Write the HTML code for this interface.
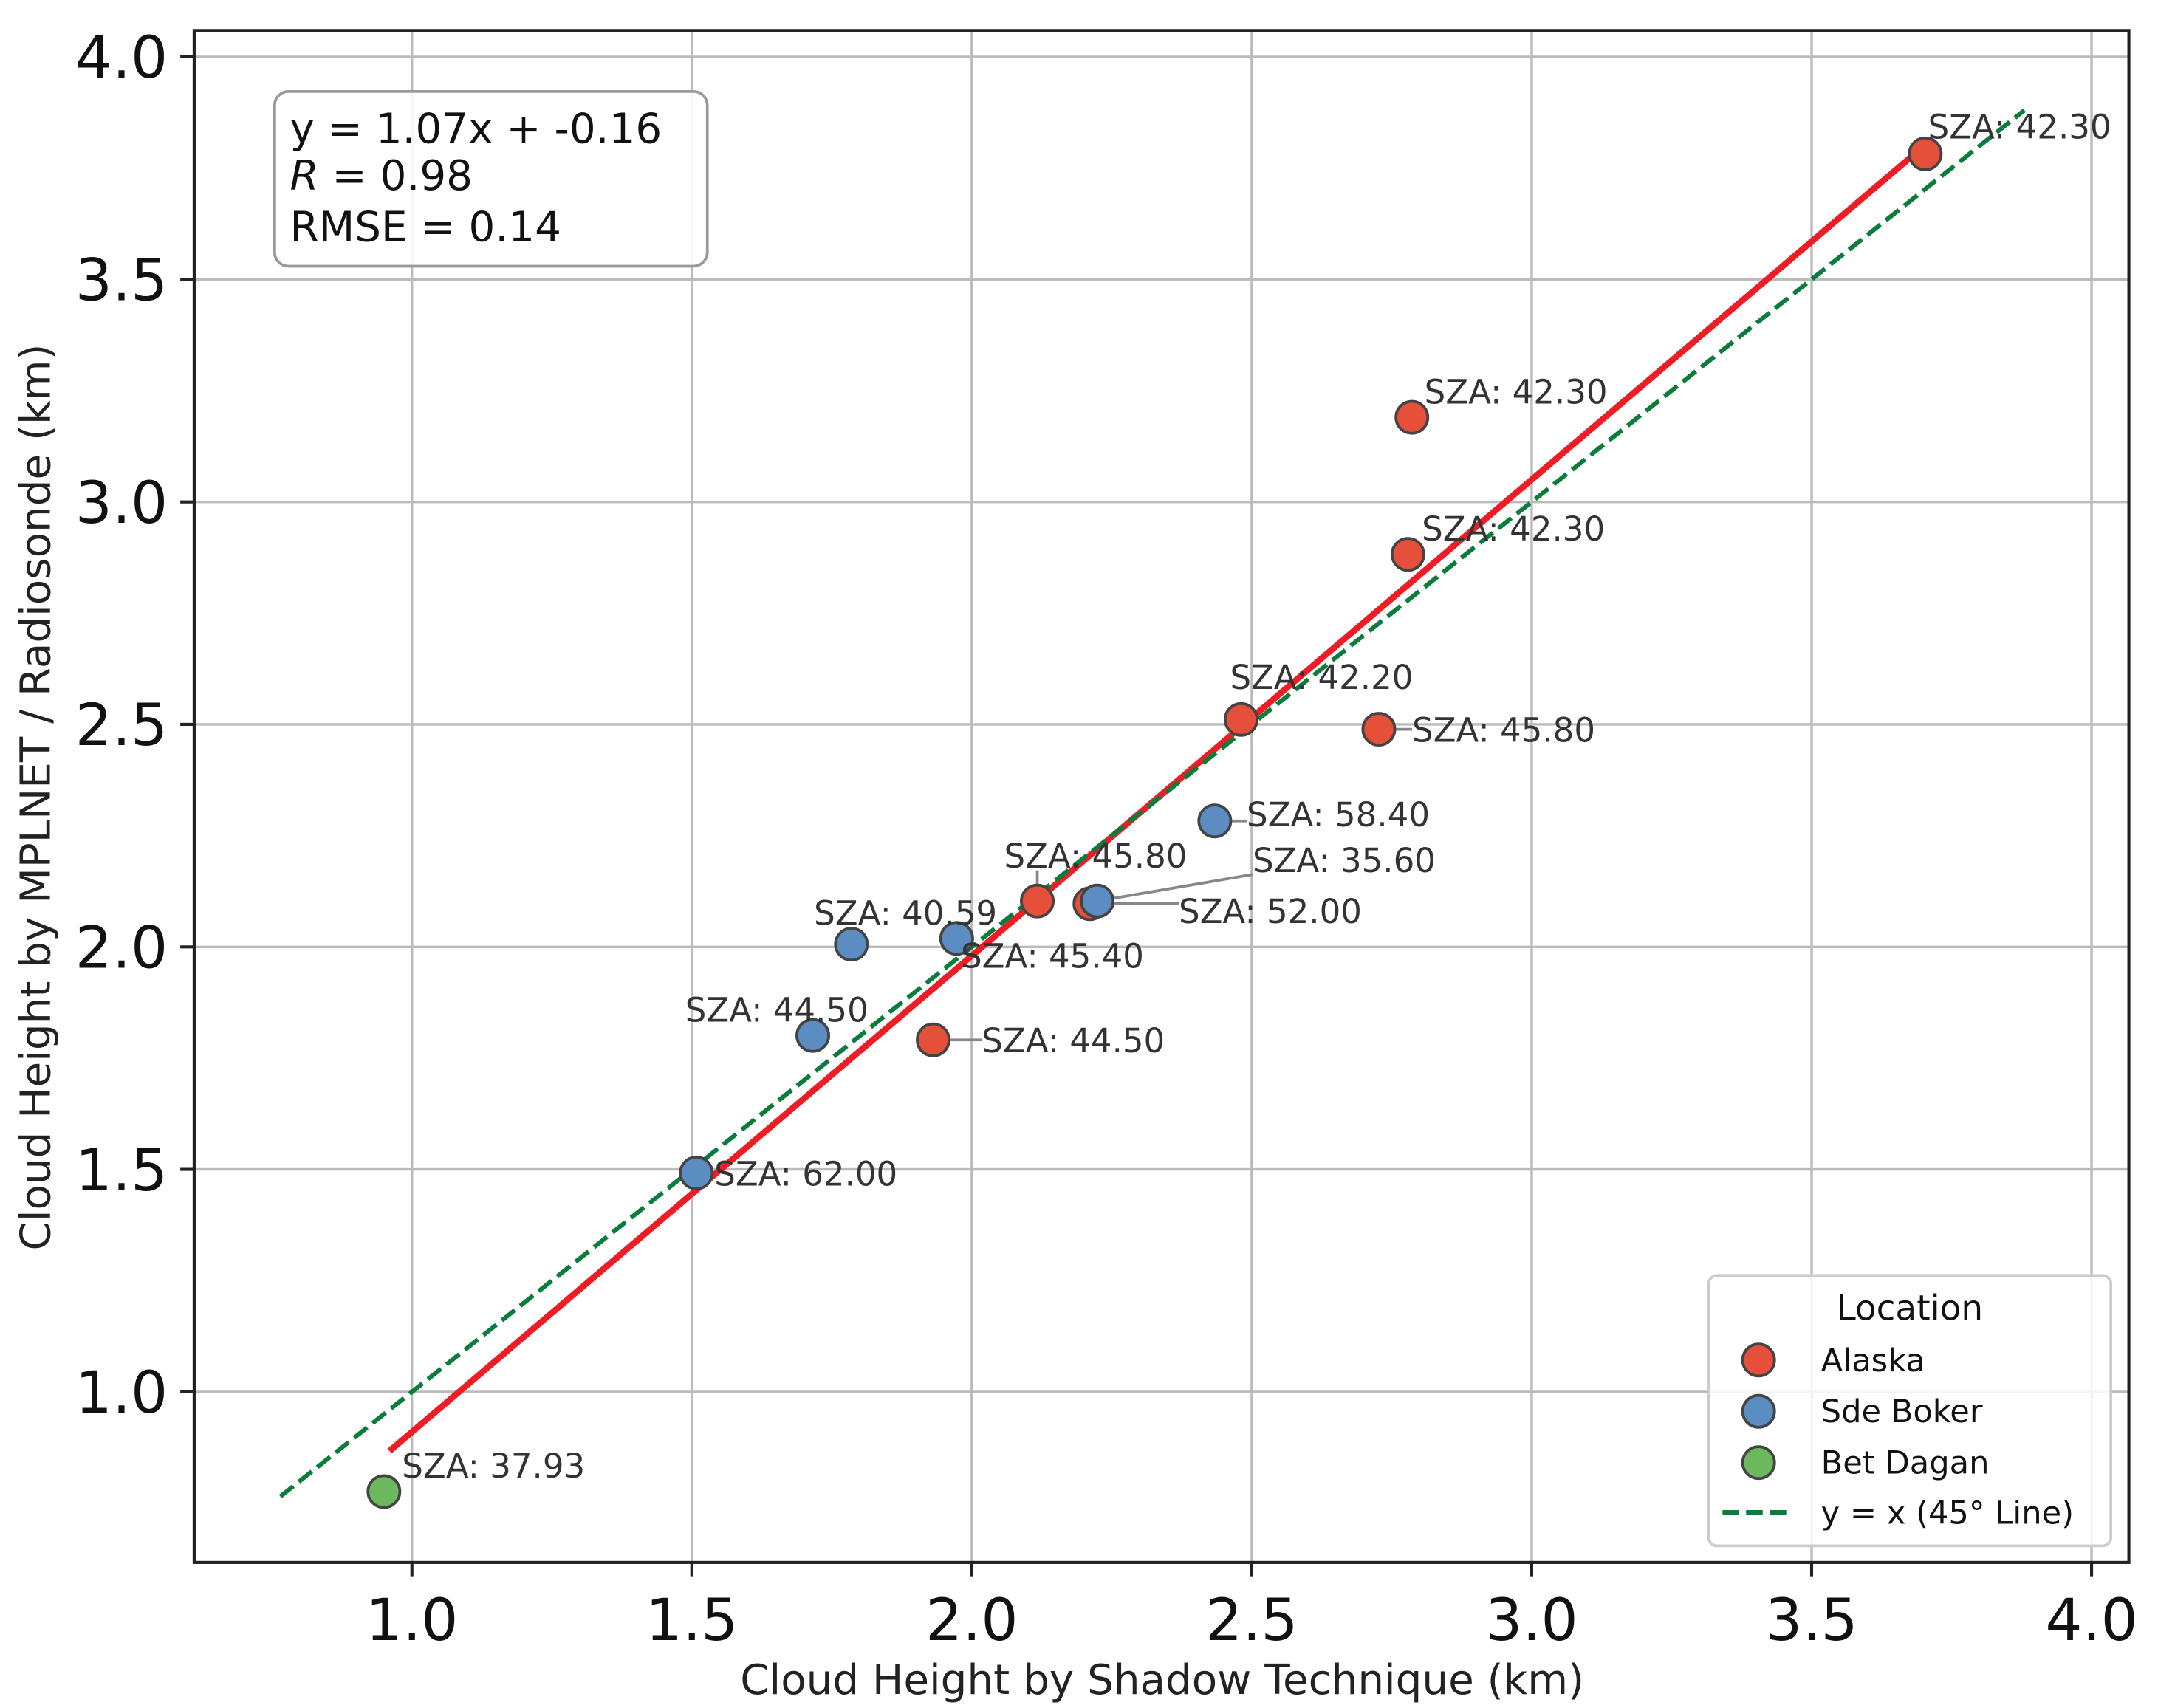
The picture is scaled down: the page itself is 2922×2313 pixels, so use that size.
<!DOCTYPE html>
<html><head><meta charset="utf-8"><style>
html,body{margin:0;padding:0;background:#fff;}
svg{display:block;font-family:"DejaVu Sans","Liberation Sans",sans-serif;}
</style></head><body>
<svg id="chart" width="2922" height="2313" viewBox="0 0 1556 1232" preserveAspectRatio="none" xmlns="http://www.w3.org/2000/svg">
<rect x="0" y="0" width="1556" height="1232" fill="#fff"/>
<g id="grid"></g>
<g id="lines"></g>
<g id="connectors"></g>
<g id="points"></g>
<g id="labels"></g>
<rect x="140" y="22" width="1395" height="1105" fill="none" stroke="#222" stroke-width="2.2"/>
<g id="ticks"></g>
<text x="838" y="1222" font-size="30" text-anchor="middle" fill="#222">Cloud Height by Shadow Technique (km)</text>
<text transform="translate(36,575) rotate(-90)" font-size="30" text-anchor="middle" fill="#222">Cloud Height by MPLNET / Radiosonde (km)</text>
<g>
<rect x="198" y="66" width="312" height="126" rx="10" fill="#fff" fill-opacity="0.85" stroke="#999" stroke-width="2"/>
<text x="209" y="103" font-size="30" fill="#111">y = 1.07x + -0.16</text>
<text x="209" y="137" font-size="30" fill="#111"><tspan font-style="italic">R</tspan> = 0.98</text>
<text x="209" y="174" font-size="30" fill="#111">RMSE = 0.14</text>
</g>
<g>
<rect x="1232" y="920" width="290" height="195" rx="6" fill="#fff" fill-opacity="0.85" stroke="#ccc" stroke-width="2"/>
<text x="1377" y="952" font-size="25" text-anchor="middle" fill="#111">Location</text>
<circle cx="1268" cy="981" r="11.5" fill="#e6503a" stroke="#444" stroke-width="2"/>
<text x="1313" y="989" font-size="23" fill="#111">Alaska</text>
<circle cx="1268" cy="1018" r="11.5" fill="#5b8cc2" stroke="#444" stroke-width="2"/>
<text x="1313" y="1026" font-size="23" fill="#111">Sde Boker</text>
<circle cx="1268" cy="1055" r="11.5" fill="#6cb85f" stroke="#444" stroke-width="2"/>
<text x="1313" y="1063" font-size="23" fill="#111">Bet Dagan</text>
<line x1="1242" y1="1091" x2="1292" y2="1091" stroke="#0a7d3c" stroke-width="3.5" stroke-dasharray="12,5"/>
<text x="1313" y="1099" font-size="23" fill="#111">y = x (45° Line)</text>
</g>
<script>
const xTicks=[1.0,1.5,2.0,2.5,3.0,3.5,4.0];
const yTicks=[1.0,1.5,2.0,2.5,3.0,3.5,4.0];
const xVals=[3.703,2.786,2.779,2.481,2.727,2.117,2.211,1.931, 2.434,2.224,1.785,1.973,1.716,1.508, 0.950];
const yVals=[3.782,3.190,2.882,2.511,2.489,2.103,2.097,1.791, 2.283,2.103,2.006,2.019,1.801,1.492, 0.776];
const groups=["Alaska","Alaska","Alaska","Alaska","Alaska","Alaska","Alaska","Alaska","Sde Boker","Sde Boker","Sde Boker","Sde Boker","Sde Boker","Sde Boker","Bet Dagan"];
const sza=["42.30","42.30","42.30","42.20","45.80","45.80","52.00","44.50","58.40","35.60","40.59","45.40","44.50","62.00","37.93"];
const fitSlope=1.07, fitIntercept=-0.16, fitRange=[0.96,3.70], idRange=[0.765,3.88];
const offsets=[[2,-11,0],[9,-10,0],[10,-10,0],[-8,-22,0],[24,9,1],[-24,-24,1],[64,14,1],[35,9,1],[23,4,1],[112,-21,1],[-27,-14,0],[3,21,1],[-92,-10,0],[13,9,0],[13,-10,0]];
const colors={"Alaska":"#e6503a","Sde Boker":"#5b8cc2","Bet Dagan":"#6cb85f"};
const NS="http://www.w3.org/2000/svg";
const sx=v=>297+(v-1)*403.7, sy=v=>1004-(v-1)*321;
function mk(tag,attrs,parent){const e=document.createElementNS(NS,tag);for(const k in attrs)e.setAttribute(k,attrs[k]);document.getElementById(parent).appendChild(e);return e;}
xTicks.forEach(t=>{
  const g=mk('line',{x1:sx(t),x2:sx(t),y1:22,y2:1127,stroke:'#bbb','stroke-width':1.8},'grid');
  
  
  const tk=mk('line',{x1:sx(t),x2:sx(t),y1:1127,y2:1137,stroke:'#222','stroke-width':2.2},'ticks');
  
  
  const tl=mk('text',{x:sx(t),y:1183,'font-size':42,'text-anchor':'middle',fill:'#111'},'ticks');
  tl.textContent=t.toFixed(1);
  
  
});
yTicks.forEach(t=>{
  const g=mk('line',{x1:140,x2:1535,y1:sy(t),y2:sy(t),stroke:'#bbb','stroke-width':1.8},'grid');
  
  
  const tk=mk('line',{x1:130,x2:140,y1:sy(t),y2:sy(t),stroke:'#222','stroke-width':2.2},'ticks');
  
  
  const tl=mk('text',{x:121,y:sy(t)+15,'font-size':42,'text-anchor':'end',fill:'#111'},'ticks');
  tl.textContent=t.toFixed(1);
  
  
});
const fl=mk('line',{x1:sx(fitRange[0]),y1:sy(fitSlope*fitRange[0]+fitIntercept),x2:sx(fitRange[1]),y2:sy(fitSlope*fitRange[1]+fitIntercept),stroke:'#ee1c25','stroke-width':4.5},'lines');


const il=mk('line',{x1:sx(idRange[0]),y1:sy(idRange[0]),x2:sx(idRange[1]),y2:sy(idRange[1]),stroke:'#0a7d3c','stroke-width':3.2,'stroke-dasharray':'12,5'},'lines');


xVals.forEach((v,i)=>{
  const px=sx(v), py=sy(yVals[i]), o=offsets[i];
  const p=mk('circle',{cx:px,cy:py,r:11.5,fill:colors[groups[i]],stroke:'#444','stroke-width':2},'points');
  
  
  const t=mk('text',{x:px+o[0],y:py+o[1],'font-size':24,fill:'#333'},'labels');
  t.textContent='SZA: '+sza[i];
  
  
  if(o[2]){
    const b=t.getBBox();
    const ex=Math.max(b.x,Math.min(px,b.x+b.width));
    const ey=Math.max(b.y+4,Math.min(py,b.y+b.height-4));
    const c=mk('line',{x1:px,y1:py,x2:ex,y2:ey,stroke:'#888','stroke-width':2},'connectors');
    
    
  }
});
</script>
</svg>
</body></html>
